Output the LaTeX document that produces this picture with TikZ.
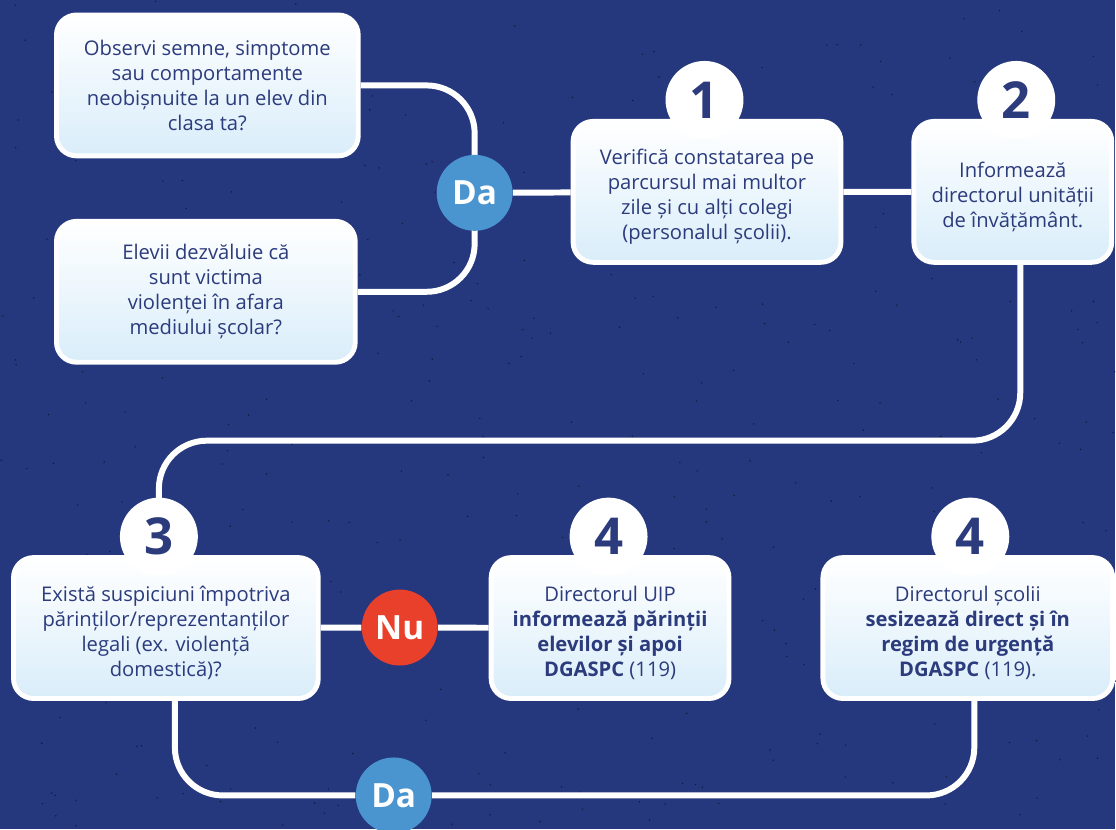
\documentclass[tikz,border=0pt]{standalone}
\usepackage{fontspec}
\setmainfont{Open Sans}
\usetikzlibrary{backgrounds}
\definecolor{navy}{HTML}{25387E}
\definecolor{ink}{HTML}{2B3B7C}
\definecolor{pale}{HTML}{D9EDFA}
\definecolor{dablue}{HTML}{4A94CF}
\definecolor{nured}{HTML}{E9402B}
\tikzset{
  card/.style={rectangle, rounded corners=0.4cm, draw=white, line width=2.8pt,
    top color=white, bottom color=pale, text=ink, align=center, inner sep=0pt,
    minimum height=2.82cm, font=\fontsize{11.5}{14.2}\selectfont},
  num/.style={circle, fill=white, text=ink, minimum size=1.56cm, inner sep=0pt,
    font=\fontsize{29}{29}\selectfont\bfseries},
  answer/.style={circle, minimum size=1.52cm, inner sep=0pt, text=white,
    font=\fontsize{19}{19}\selectfont\bfseries},
  link/.style={draw=white, line width=3.4pt, rounded corners=0.96cm}
}
\begin{document}
\begin{tikzpicture}[x=0.02cm, y=-0.02cm]
    \begin{pgfonlayer}{background}
        \fill[navy] (0,0) rectangle (1116,830);
        \pgfmathsetseed{42}
        \foreach \i in {1,...,380} {
            \fill[black!55!navy] ({rnd*1116},{rnd*830}) circle (0.45pt);
        }
    \end{pgfonlayer}
    \useasboundingbox (0,0) rectangle (1116,830);

    % boxes
    \node[card, minimum width=6.04cm] (obs) at (207.5,85.5)
        {Observi semne, simptome\\sau comportamente\\neobișnuite la un elev din\\clasa ta?};
    \node[card, minimum width=5.98cm] (elevii) at (206,292)
        {Elevii dezvăluie că\\sunt victima\\violenței în afara\\mediului școlar?};
    \node[card, minimum width=5.36cm] (s1) at (707.5,192)
        {\\Verifică constatarea pe\\parcursul mai multor\\zile și cu alți colegi\\(personalul școlii).};
    \node[card, minimum width=3.96cm] (s2) at (1013.5,192)
        {\\Informează\\directorul unității\\de învățământ.};
    \node[card, minimum width=6.1cm] (s3) at (166,628.5)
        {\\Există suspiciuni împotriva\\părinților/reprezentanților\\legali (ex. violență\\domestică)?};
    \node[card, minimum width=4.76cm] (s4a) at (610.5,628.5)
        {\\Directorul UIP\\\textbf{informează părinții}\\\textbf{elevilor și apoi}\\\textbf{DGASPC} (119)};
    \node[card, minimum width=5.8cm] (s4b) at (968.5,628.5)
        {\\Directorul școlii\\\textbf{sesizează direct și în}\\\textbf{regim de urgență}\\\textbf{DGASPC} (119).};

    % step numbers
    \foreach \nm/\px/\py/\lbl in {n1/705/100/1, n2/1017/100/2, n3/159/537/3,
                                  n4a/609/537/4, n4b/971/537/4} {
        \node[num] (\nm) at (\px,\py) {\lbl};
    }

    % answers
    \node[answer, fill=dablue] (da1) at (475,193) {Da};
    \node[answer, fill=nured] (nu) at (400,628) {Nu};
    \node[answer, fill=dablue] (da2) at (394,796) {Da};

    \coordinate (bendl) at (159,441);
    \coordinate (bendb) at (175,796);
    \coordinate (bendr) at (975,796);

    \begin{pgfonlayer}{background}
        \draw[link] (obs.east) -| (da1.center);
        \draw[link] (elevii.east) -| (da1.center);
        \draw[link] (da1) -- (s1) -- (s2);
        \draw[link] (s2.south -| 1021,0) |- (bendl) -- (n3.center);
        \draw[link] (s3) -- (nu) -- (s4a);
        \draw[link] (bendb |- s3.south) -- (bendb) -- (da2) -- (bendr) -- (bendr |- s4b.south);
    \end{pgfonlayer}
\end{tikzpicture}
\end{document}
